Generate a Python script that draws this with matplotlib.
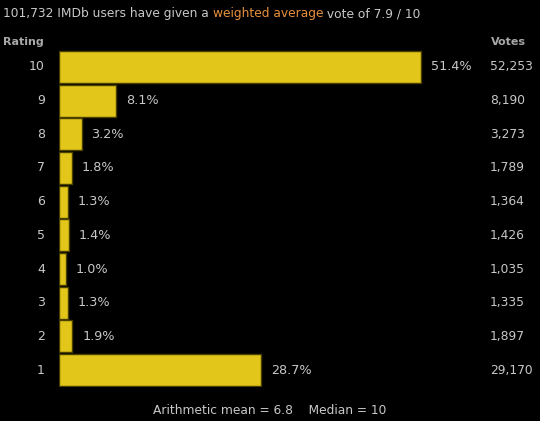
import matplotlib
matplotlib.use("Agg")
import matplotlib.pyplot as plt
import matplotlib.transforms as mtransforms

# rating distribution
ratings = [10, 9, 8, 7, 6, 5, 4, 3, 2, 1]
percents = [51.4, 8.1, 3.2, 1.8, 1.3, 1.4, 1.0, 1.3, 1.9, 28.7]
votes = ["52,253", "8,190", "3,273", "1,789", "1,364", "1,426", "1,035", "1,335", "1,897", "29,170"]

total_votes = "101,732"
weighted = "7.9"
mean = "6.8"
median = "10"

W, H = 540, 421
bg = "#000000"
txt = "#c8c8c8"
bar_col = "#e2c619"
edge_col = "#4a4000"
orange = "#e8903c"

fig = plt.figure(figsize=(W / 100, H / 100), dpi=100, facecolor=bg)
plt.rcParams["font.family"] = "DejaVu Sans"

ax = fig.add_axes([59 / W, (H - 387) / H, (W - 59) / W, (387 - 50) / H])
ax.set_facecolor(bg)
ypos = list(range(len(ratings)))
ax.barh(ypos, percents, height=0.95, color=bar_col, edgecolor=edge_col, linewidth=1)
ax.set_ylim(len(ratings) - 0.5, -0.5)
ax.set_xlim(0, 51.4 * (W - 59) / 362)
ax.axis("off")

for y, p in zip(ypos, percents):
    ax.annotate(f"{p}%", (p, y), xytext=(7, 0), textcoords="offset points",
                ha="left", va="center", color=txt, fontsize=9.2)

trans_l = mtransforms.blended_transform_factory(fig.transFigure, ax.transData)
for y, r, v in zip(ypos, ratings, votes):
    ax.text(45 / W, y, str(r), transform=trans_l, ha="right", va="center",
            color=txt, fontsize=9)
    ax.text(490 / W, y, v, transform=trans_l, ha="left", va="center",
            color=txt, fontsize=8.8)

fig.text(3 / W, 1 - 42 / H, "Rating", ha="left", va="center", color="#a8a8a8",
         fontsize=8, fontweight="bold")
fig.text(491 / W, 1 - 42 / H, "Votes", ha="left", va="center", color="#a8a8a8",
         fontsize=8, fontweight="bold")

# title in three colored pieces
t1 = fig.text(3 / W, 1 - 14 / H, f"{total_votes} IMDb users have given a ",
              ha="left", va="center", color=txt, fontsize=8.8)
t2 = fig.text(0, 0, "weighted average", color=orange, fontsize=8.8)
t3 = fig.text(0, 0, f" vote of {weighted} / 10", color=txt, fontsize=8.8)
fig.canvas.draw()
r = fig.canvas.get_renderer()
bb = t1.get_window_extent(r)
t2.set_position(((bb.x1) / W, 1 - 14 / H))
t2.set_va("center")
bb2 = t2.get_window_extent(r)
t3.set_position(((bb2.x1) / W, 1 - 14 / H))
t3.set_va("center")

fig.text(270 / W, 1 - 410 / H, f"Arithmetic mean = {mean}    Median = {median}",
         ha="center", va="center", color=txt, fontsize=8.8)

fig.savefig("out.png", dpi=100, facecolor=bg)
